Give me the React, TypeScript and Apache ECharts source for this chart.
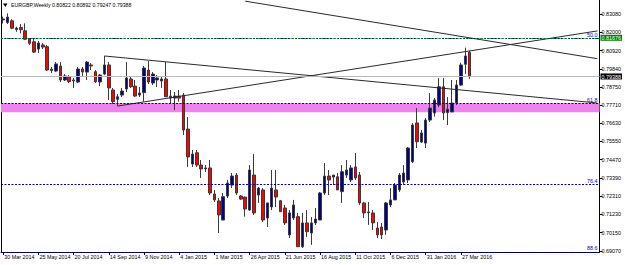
import React, { useEffect, useRef } from "react";
import * as echarts from "echarts";

// Weekly candles, each row = [open, close, low, high]; first week = 30 Mar 2014
const candles2014: number[][] = [
  [0.8273, 0.8279, 0.8252, 0.8293],
  [0.8258, 0.829, 0.8249, 0.8312],
  [0.8268, 0.8224, 0.8218, 0.8277],
  [0.8216, 0.8225, 0.8203, 0.8233],
  [0.8229, 0.8215, 0.8194, 0.8249],
  [0.8209, 0.8159, 0.8154, 0.8253],
  [0.8159, 0.8135, 0.8125, 0.8166],
  [0.8144, 0.8083, 0.8078, 0.8166],
  [0.8101, 0.8137, 0.8078, 0.8148],
  [0.8125, 0.8113, 0.8101, 0.8137],
  [0.8115, 0.7977, 0.7971, 0.8125],
  [0.7983, 0.7974, 0.7959, 0.7995],
  [0.7971, 0.8013, 0.7965, 0.8024],
  [0.8001, 0.7918, 0.7906, 0.8024],
  [0.7918, 0.7942, 0.7912, 0.7953],
  [0.7936, 0.7908, 0.79, 0.7947],
  [0.7918, 0.7912, 0.7871, 0.793],
  [0.7906, 0.7983, 0.79, 0.7995],
  [0.7983, 0.7965, 0.7936, 0.7995],
  [0.7965, 0.8024, 0.7918, 0.803],
  [0.8007, 0.8001, 0.7977, 0.8018],
  [0.7967, 0.7908, 0.79, 0.7977],
  [0.7906, 0.7947, 0.7882, 0.7953],
  [0.7953, 0.8007, 0.7947, 0.806],
  [0.8007, 0.7871, 0.78, 0.8024],
  [0.7859, 0.779, 0.7776, 0.7871],
  [0.7804, 0.7819, 0.7764, 0.7835],
  [0.7829, 0.7853, 0.7817, 0.7871],
  [0.7865, 0.793, 0.7847, 0.8024],
  [0.7924, 0.7878, 0.7871, 0.7936],
  [0.7882, 0.7823, 0.7817, 0.7918],
  [0.7829, 0.7841, 0.7817, 0.7877],
  [0.7843, 0.7989, 0.779, 0.8001],
  [0.7977, 0.7906, 0.7894, 0.803],
  [0.79, 0.7953, 0.7888, 0.7965],
  [0.7918, 0.793, 0.7877, 0.7947],
  [0.7912, 0.7924, 0.7871, 0.7942],
  [0.7924, 0.7819, 0.7817, 0.8024],
  [0.7823, 0.7811, 0.7776, 0.7859],
  [0.7811, 0.7823, 0.774, 0.7847],
];

const candles2015: number[][] = [
  [0.7823, 0.7811, 0.779, 0.7859],
  [0.7829, 0.7622, 0.7593, 0.7841],
  [0.7628, 0.7463, 0.7404, 0.7699],
  [0.7421, 0.748, 0.7404, 0.7504],
  [0.7488, 0.7415, 0.7404, 0.7504],
  [0.7415, 0.7392, 0.7339, 0.7445],
  [0.7392, 0.7398, 0.7374, 0.7415],
  [0.7398, 0.725, 0.7238, 0.7445],
  [0.7244, 0.7209, 0.7197, 0.7268],
  [0.7203, 0.712, 0.7013, 0.722],
  [0.709, 0.7228, 0.709, 0.725],
  [0.7232, 0.7309, 0.722, 0.7327],
  [0.7297, 0.735, 0.7279, 0.7368],
  [0.7356, 0.725, 0.7238, 0.7368],
  [0.7232, 0.7214, 0.7209, 0.7238],
  [0.7226, 0.7155, 0.711, 0.7228],
  [0.7149, 0.7386, 0.7144, 0.7415],
  [0.7356, 0.7132, 0.712, 0.748],
  [0.7238, 0.7279, 0.7191, 0.7285],
  [0.7268, 0.709, 0.7078, 0.7279],
  [0.7102, 0.7191, 0.7049, 0.7191],
  [0.7167, 0.7279, 0.7149, 0.7386],
  [0.7268, 0.7226, 0.7167, 0.7386],
  [0.7204, 0.7139, 0.7138, 0.7209],
  [0.7161, 0.7073, 0.7061, 0.7179],
  [0.7002, 0.7132, 0.6984, 0.7149],
  [0.7102, 0.7179, 0.709, 0.7209],
  [0.711, 0.6932, 0.6931, 0.7132],
  [0.6932, 0.7073, 0.6925, 0.7132],
  [0.7073, 0.7021, 0.699, 0.7149],
  [0.7013, 0.7073, 0.6943, 0.7108],
  [0.7073, 0.7096, 0.7061, 0.7161],
  [0.709, 0.725, 0.709, 0.7256],
  [0.725, 0.735, 0.7238, 0.7427],
  [0.735, 0.7327, 0.7238, 0.7386],
  [0.7344, 0.7356, 0.7297, 0.7356],
  [0.7346, 0.7268, 0.7268, 0.7368],
  [0.7258, 0.7376, 0.7191, 0.7415],
  [0.7356, 0.7386, 0.7339, 0.7445],
  [0.7327, 0.7398, 0.7315, 0.7415],
  [0.7404, 0.7339, 0.7327, 0.7486],
  [0.7356, 0.7191, 0.7179, 0.7374],
  [0.7191, 0.7132, 0.7102, 0.7197],
  [0.7133, 0.7138, 0.7061, 0.7197],
  [0.7132, 0.7073, 0.7031, 0.7149],
  [0.7043, 0.7002, 0.6984, 0.7078],
  [0.7049, 0.7002, 0.6978, 0.7073],
  [0.7031, 0.7191, 0.7002, 0.7197],
  [0.7179, 0.7209, 0.7167, 0.7279],
  [0.7209, 0.7297, 0.7209, 0.7309],
  [0.7268, 0.7356, 0.7256, 0.7368],
  [0.7315, 0.7368, 0.7297, 0.7415],
];

const candles2016: number[][] = [
  [0.7327, 0.7516, 0.7309, 0.7522],
  [0.7435, 0.7652, 0.7427, 0.7664],
  [0.7664, 0.7553, 0.7516, 0.7752],
  [0.7551, 0.7605, 0.7545, 0.7622],
  [0.7545, 0.7681, 0.7516, 0.7693],
  [0.7681, 0.7752, 0.767, 0.7841],
  [0.7723, 0.78, 0.7701, 0.7811],
  [0.777, 0.7878, 0.7758, 0.793],
  [0.7878, 0.7723, 0.7681, 0.793],
  [0.7725, 0.7746, 0.7652, 0.7817],
  [0.7729, 0.7782, 0.7729, 0.7918],
  [0.7782, 0.7888, 0.777, 0.7918],
  [0.7888, 0.8007, 0.7882, 0.802],
  [0.8011, 0.806, 0.7953, 0.8109],
  [0.80822, 0.79388, 0.79247, 0.80892],
];

const xTickLabels = [
  "30 Mar 2014", "25 May 2014", "20 Jul 2014", "14 Sep 2014", "9 Nov 2014",
  "4 Jan 2015", "1 Mar 2015", "26 Apr 2015", "21 Jun 2015", "16 Aug 2015",
  "11 Oct 2015", "6 Dec 2015", "31 Jan 2016", "27 Mar 2016",
];
const weeksPerXTick = 8;
const emptyWeeksRight = 29;

const yTickValues = [
  0.6907, 0.7015, 0.7123, 0.7231, 0.7339, 0.7447, 0.7555, 0.7663, 0.7771,
  0.7875, 0.7984, 0.8092, 0.82, 0.8308,
];
const yMin = 0.6901;
const yMax = 0.8391;

const horizontalLevel = 0.81676;
const fibLevels: [string, number][] = [
  ["50.0", 0.8166],
  ["61.8", 0.778],
  ["76.4", 0.7301],
  ["88.6", 0.6902],
];
const zoneBand = [0.778, 0.7727];

// trend lines: [weekIndex, price] endpoints
const trendLines: number[][][] = [
  [[55, 0.8384], [135, 0.8044]],
  [[23, 0.806], [135, 0.7782]],
  [[26, 0.7764], [135, 0.8208]],
];

const FONT = "Liberation Sans";
const FS = 5.4;

export default function App() {
  const ref = useRef<HTMLDivElement>(null);
  useEffect(() => {
    if (!ref.current) return;
    const chart = echarts.init(ref.current, undefined, { renderer: "svg" });
    const candles = [...candles2014, ...candles2015, ...candles2016];
    const slots = candles.length + emptyWeeksRight;
    const categories = Array.from({ length: slots }, (_, i) => "w" + i);
    const last = candles[candles.length - 1];
    const bid = last[1];
    const showTick = (i: number) =>
      i % weeksPerXTick === 0 && i / weeksPerXTick < xTickLabels.length;

    const baseY = {
      type: "value",
      min: yMin,
      max: yMax,
      splitLine: { show: false },
    };

    const option: any = {
      animation: false,
      backgroundColor: "#ffffff",
      textStyle: { fontFamily: FONT },
      grid: { left: 1, right: 23, top: 0, bottom: 13 },
      xAxis: {
        type: "category",
        data: categories,
        boundaryGap: true,
        axisLine: { show: true, lineStyle: { color: "#000", width: 1 } },
        axisTick: {
          show: true,
          alignWithLabel: true,
          interval: (i: number) => showTick(i),
          length: 3,
          lineStyle: { color: "#000" },
        },
        axisLabel: {
          show: true,
          interval: (i: number) => showTick(i),
          formatter: (_: string, i: number) => xTickLabels[i / weeksPerXTick] ?? "",
          align: "left",
          margin: 2,
          fontSize: FS,
          fontFamily: FONT,
          color: "#000",
          padding: [0, 0, 0, 1],
        },
        splitLine: { show: false },
      },
      yAxis: [
        {
          ...baseY,
          position: "right",
          axisLine: { show: true, lineStyle: { color: "#000", width: 1 } },
          axisTick: {
            show: true,
            length: 3,
            customValues: yTickValues,
            lineStyle: { color: "#000" },
          },
          axisLabel: {
            show: true,
            customValues: yTickValues,
            formatter: (v: number) => v.toFixed(5),
            fontSize: FS,
            fontFamily: FONT,
            color: "#000",
            margin: 2,
          },
        },
        {
          ...baseY,
          position: "left",
          axisLine: { show: true, lineStyle: { color: "#000", width: 1 } },
          axisTick: { show: false },
          axisLabel: { show: false },
        },
        {
          ...baseY,
          position: "right",
          axisLine: { show: false },
          axisTick: { show: false },
          axisLabel: {
            show: true,
            customValues: [horizontalLevel, bid],
            margin: 1,
            formatter: (v: number) =>
              Math.abs(v - horizontalLevel) < 1e-9
                ? `{g|${v.toFixed(5)}}`
                : `{b|${v.toFixed(5)}}`,
            rich: {
              g: {
                backgroundColor: "#008000",
                color: "#ffffff",
                padding: [1, 1, 0, 1],
                fontSize: FS,
                fontFamily: FONT,
              },
              b: {
                backgroundColor: "#000000",
                color: "#ffffff",
                padding: [1, 1, 0, 1],
                fontSize: FS,
                fontFamily: FONT,
              },
            },
          },
        },
      ],
      graphic: [
        {
          type: "polygon",
          shape: { points: [[3, 3.5], [7.5, 3.5], [5.25, 7]] },
          style: { fill: "#000" },
        },
        {
          type: "text",
          x: 11,
          y: 5.3,
          style: {
            text: `EURGBP,Weekly ${last[0].toFixed(5)} ${last[3].toFixed(5)} ${last[2].toFixed(5)} ${last[1].toFixed(5)}`,
            fontSize: 5.2,
            fontFamily: FONT,
            fill: "#000",
            verticalAlign: "middle",
          },
        },
      ],
      series: [
        {
          type: "line",
          data: [],
          z: 1,
          silent: true,
          markArea: {
            silent: true,
            precision: 6,
            itemStyle: { color: "#EE82EE", opacity: 1 },
            data: [[{ yAxis: zoneBand[0] }, { yAxis: zoneBand[1] }]],
          },
        },
        {
          type: "candlestick",
          data: candles,
          barWidth: 3,
          z: 3,
          itemStyle: {
            color: "#000096",
            color0: "#ff0000",
            borderColor: "#3a3a3a",
            borderColor0: "#3a3a3a",
            borderWidth: 1,
          },
          markLine: {
            silent: true,
            precision: 6,
            symbol: ["none", "none"],
            animation: false,
            data: [
              ...fibLevels.map(([name, v]) => ({
                yAxis: v,
                lineStyle: { color: "#0000a0", type: [2, 1.5], width: 1 },
                label: {
                  show: true,
                  position: "insideEndTop",
                  formatter: name,
                  color: "#0000c0",
                  fontSize: FS,
                  fontFamily: FONT,
                  distance: [2, 1],
                },
              })),
              {
                yAxis: horizontalLevel,
                lineStyle: { color: "#008000", type: [1.5, 1.5], width: 1 },
                label: { show: false },
              },
              {
                yAxis: bid,
                lineStyle: { color: "#b8b8b8", type: "solid", width: 1 },
                label: { show: false },
              },
            ],
          },
        },
        ...trendLines.map((pts) => ({
          type: "line",
          data: pts,
          z: 4,
          silent: true,
          symbol: "none",
          lineStyle: { color: "#2a2a2a", width: 1 },
        })),
      ],
    };
    chart.setOption(option);
    return () => chart.dispose();
  }, []);
  return (
    <div
      ref={ref}
      style={{ position: "fixed", left: 0, top: 0, width: 625, height: 265, background: "#fff" }}
    />
  );
}
